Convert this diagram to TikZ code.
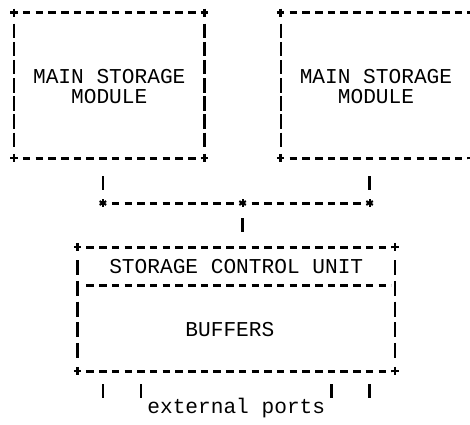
\documentclass[tikz,border=0pt]{standalone}
\usepackage{fontspec}
\setmonofont{Liberation Mono}
\begin{document}
\begin{tikzpicture}[x=1pt,y=-1pt,
  lbl/.style={font=\fontsize{21.16pt}{24pt}\selectfont\ttfamily, inner sep=0pt, text=black},
  hdash/.style={line width=3pt, black, dash pattern=on 7.5pt off 5.2pt, dash phase=7.5pt,
                shorten <=3.75pt, shorten >=3.75pt},
  vbar/.style={line width=2.4pt, black},
  mside/.style={vbar, dash pattern=on 14.5pt off 3.66pt, shorten <=10.95pt, shorten >=10.95pt},
  sside/.style={vbar, dash pattern=on 15pt off 5.67pt, shorten <=13.17pt, shorten >=13.17pt},
  plusmark/.pic={\draw[line width=2.5pt, black] (-3.75,0) -- (3.75,0) (0,-4.2) -- (0,4.2);},
  starmark/.pic={\foreach \a in {90,30,150}
                   \draw[line width=2pt, black] (\a:3.8) -- (\a+180:3.8);}
]
\fill[white] (0,0) rectangle (470,424);
\useasboundingbox (0,0) rectangle (470,424);
\clip (0,0) rectangle (470,424);

% ---- corner points (character grid: column c sits at x = 14 + 12.7 c)
\coordinate (m1nw) at (14,12.7);    \coordinate (m1ne) at (204.5,12.7);
\coordinate (m1sw) at (14,158);     \coordinate (m1se) at (204.5,158);
\coordinate (m2nw) at (280.7,12.7); \coordinate (m2ne) at (471.2,12.7);
\coordinate (m2sw) at (280.7,158);  \coordinate (m2se) at (471.2,158);
\coordinate (snw) at (77.5,247);    \coordinate (sne) at (395,247);
\coordinate (ssw) at (77.5,371);    \coordinate (sse) at (395,371);
\coordinate (sdw) at (77.5,285);    \coordinate (sde) at (395,285);

% ---- main storage modules
\foreach \m in {m1,m2}{
  \draw[hdash] (\m nw) -- (\m ne);
  \draw[hdash] (\m sw) -- (\m se);
  \draw[mside] (\m nw) -- (\m sw);
  \draw[mside] (\m ne) -- (\m se);
  \foreach \k in {nw,ne,sw,se} \pic at (\m\k) {plusmark};
}
\node[lbl, anchor=base] (t1) at (109.25,83.3) {MAIN STORAGE};
\node[lbl, anchor=base] (t2) at (109.25,103.3) {MODULE};
\node[lbl, anchor=base] (t3) at (375.95,83.3) {MAIN STORAGE};
\node[lbl, anchor=base] (t4) at (375.95,103.3) {MODULE};

% ---- storage control unit
\draw[hdash] (snw) -- (sne);
\draw[hdash] (ssw) -- (sse);
\draw[hdash] (sdw) -- (sde);
\draw[sside] (snw) -- (ssw);
\draw[sside] (sne) -- (sse);
\foreach \k in {snw,sne,ssw,sse} \pic at (\k) {plusmark};
\node[lbl, anchor=base] (t5) at (236.25,273.5) {STORAGE CONTROL UNIT};
\node[lbl, anchor=base] (t6) at (229.9,336) {BUFFERS};

% ---- bus junctions and links
\coordinate (j1) at (102.9,203);
\coordinate (j2) at (242.6,203);
\coordinate (j3) at (369.6,203);
\coordinate (f1) at (102.9,158);
\coordinate (f2) at (369.6,158);
\coordinate (f3) at (242.6,247);
\draw[hdash] (j1) -- (j2);
\draw[hdash] (j2) -- (j3);
\foreach \j in {j1,j2,j3} \pic at (\j) {starmark};
\draw[vbar, shorten <=18pt, shorten >=13pt] (f1) -- (j1);
\draw[vbar, shorten <=18pt, shorten >=13pt] (f2) -- (j3);
\draw[vbar, shorten <=15pt, shorten >=15pt] (j2) -- (f3);

% ---- external ports
\foreach \n/\x in {1/102.9, 2/141, 3/331.5, 4/369.6}{
  \coordinate (b\n) at (\x,371);
  \coordinate (p\n) at (\x,398);
  \draw[vbar, shorten <=13pt] (b\n) -- (p\n);
}
\node[lbl, anchor=base] (t7) at (236.25,413) {external ports};
\end{tikzpicture}
\end{document}
